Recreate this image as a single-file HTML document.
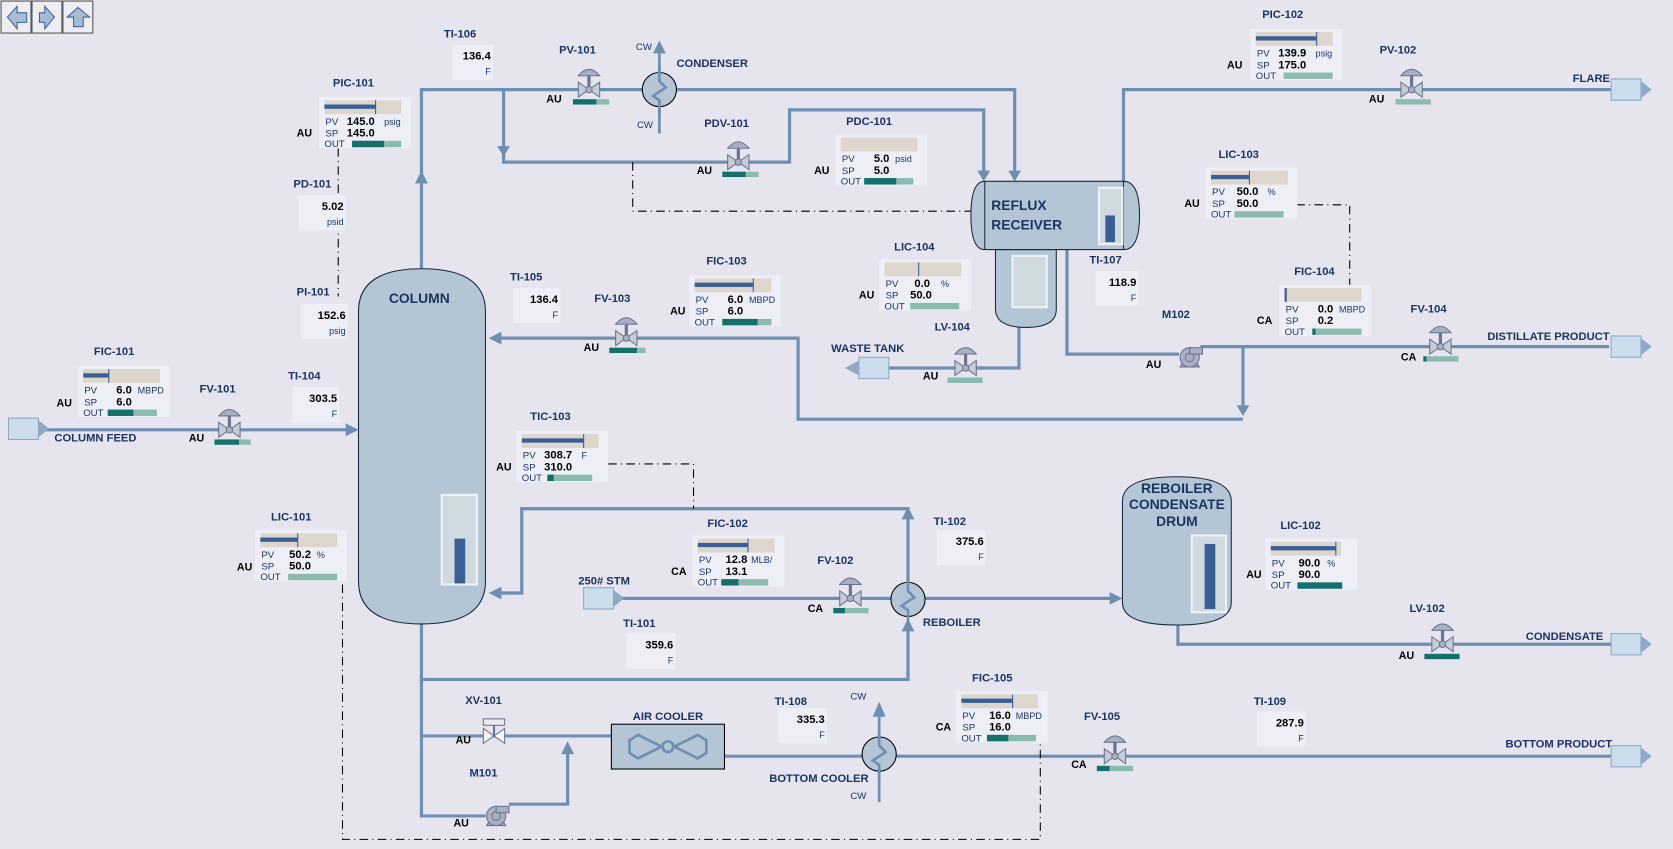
<!DOCTYPE html>
<html><head><meta charset="utf-8"><style>
html,body{margin:0;padding:0;background:#e6e4ee;}
svg{display:block}
text{font-family:"Liberation Sans",sans-serif;}
.t{font-size:10.5px;font-weight:bold;fill:#1c3461}
.a{font-size:10px;font-weight:bold;fill:#000}
.s{font-size:9px;fill:#1c3461}
.v{font-size:10.5px;font-weight:bold;fill:#000}
.u{font-size:8.5px;fill:#1c3461}
.big{font-size:13px;font-weight:bold;fill:#1c3461}
.p{fill:none;stroke:#6e8fb0;stroke-width:3}
.d{fill:none;stroke:#000;stroke-width:1;stroke-dasharray:8,4,1,4}
.box{fill:#eeeef7}
</style></head><body>
<svg width="1673" height="849" viewBox="0 0 1568 796" preserveAspectRatio="none" xmlns="http://www.w3.org/2000/svg">
<defs>
<g id="valve">
<polygon points="-10,-7 0,0 -10,7" fill="#c8ccd8" stroke="#6b7590"/>
<polygon points="10,-7 0,0 10,7" fill="#c8ccd8" stroke="#6b7590"/>
<circle r="3" fill="#aab0c4" stroke="#6b7590"/>
<line x1="0" y1="-3" x2="0" y2="-13" stroke="#6b7590" stroke-width="3"/>
<path d="M-10,-13 Q0,-25 10,-13 Z" fill="#aab0c4" stroke="#6b7590"/>
</g>
<g id="pump">
<polygon points="-9,9 9,9 6,4 -6,4" fill="#9aa2b8" stroke="#6b7590"/>
<circle r="9" fill="#aab0c4" stroke="#6b7590"/>
<circle r="4" fill="none" stroke="#6b7590"/>
<rect x="0" y="-9" width="12" height="6" fill="#aab0c4" stroke="#6b7590"/>
</g>
<g id="hx">
<circle r="16" fill="#b4c6d6" stroke="#000"/>
<polyline points="0,-22 0,-8 6,-2 -6,6 0,10 0,24" fill="none" stroke="#6e8fb0" stroke-width="2.5"/>
</g>
<g id="term">
<rect x="0" y="0" width="28" height="20" fill="#cbdcec" stroke="#8fa8c4"/>
<polygon points="28,2 38,10 28,18" fill="#8fa8c4"/>
</g>
<g id="arrD"><polygon points="-6,-10 6,-10 0,0" fill="#6e8fb0"/></g>
</defs>
<rect width="1568" height="796" fill="#e6e4ee"/>

<!-- nav buttons -->
<g>
<rect x="1" y="1" width="28" height="30" fill="#ededf2" stroke="#555"/>
<polygon points="7,16 16,6 16,12 25,12 25,21 16,21 16,27" fill="#a8bcd4" stroke="#3a62a0"/>
<rect x="30" y="1" width="28" height="30" fill="#ededf2" stroke="#555"/>
<polygon points="51,16 42,6 42,12 37,12 37,21 42,21 42,27" fill="#a8bcd4" stroke="#3a62a0"/>
<rect x="59" y="1" width="28" height="30" fill="#ededf2" stroke="#555"/>
<polygon points="73,7 63,16 69,16 69,25 78,25 78,16 84,16" fill="#a8bcd4" stroke="#3a62a0"/>
</g>

<!-- pipes -->
<polyline class="p" points="395,252 395,84 951,84 951,166"/>
<polyline class="p" points="472,84 472,152 740,152 740,103 922,103 922,166"/>
<use href="#arrD" x="472" y="147"/>
<use href="#arrD" x="951" y="170"/>
<use href="#arrD" x="922" y="170"/>
<polygon points="389,172 401,172 395,160" fill="#6e8fb0"/>
<line class="p" x1="618" y1="50" x2="618" y2="125" style="stroke-width:2.5"/>
<polygon points="612,50 624,50 618,38" fill="#6e8fb0"/>
<use href="#hx" x="618" y="84"/>
<polyline class="p" points="1053,170 1053,84 1510,84"/>
<polyline class="p" points="955,305 955,345 805,345"/>
<polygon points="805,338 805,352 792,345" fill="#8fa8c4"/>
<rect x="805" y="335" width="28" height="20" fill="#cbdcec" stroke="#8fa8c4"/>
<polyline class="p" points="1000,234 1000,332 1105,332"/>
<polyline class="p" points="1125,325 1508,325"/>
<polyline class="p" points="1165,325 1165,380"/>
<use href="#arrD" x="1165" y="390"/>
<polyline class="p" points="1165,393 748,393 748,317 470,317"/>
<polygon points="470,311 470,323 458,317" fill="#6e8fb0"/>
<line class="p" x1="33" y1="403" x2="325" y2="403"/>
<polygon points="324,397 324,409 336,403" fill="#6e8fb0"/>
<polyline class="p" points="395,585 395,637 851,637 851,590"/>
<polygon points="845,592 857,592 851,580" fill="#6e8fb0"/>
<polyline class="p" points="851,546 851,477 489,477 489,556 470,556"/>
<polygon points="845,487 857,487 851,475" fill="#6e8fb0"/>
<polygon points="470,550 470,562 458,556" fill="#6e8fb0"/>
<line class="p" x1="572" y1="561" x2="835" y2="561"/>
<line class="p" x1="867" y1="561" x2="1042" y2="561"/>
<polygon points="1040,555 1040,567 1052,561" fill="#6e8fb0"/>
<use href="#hx" x="851" y="562"/>
<polyline class="p" points="1104,585 1104,604 1510,604"/>
<polyline class="p" points="395,637 395,765 455,765"/>
<polyline class="p" points="395,690 573,690"/>
<polyline class="p" points="477,754 532,754 532,702"/>
<polygon points="526,707 538,707 532,695" fill="#6e8fb0"/>
<polyline class="p" points="679,709 808,709"/>
<polyline class="p" points="840,709 1510,709"/>
<line class="p" x1="824" y1="670" x2="824" y2="752" style="stroke-width:2.5"/>
<polygon points="818,672 830,672 824,658" fill="#6e8fb0"/>
<use href="#hx" x="824" y="707"/>

<!-- dashed signal lines -->
<polyline class="d" points="317,139 317,278"/>
<polyline class="d" points="593,152 593,198 910,198"/>
<polyline class="d" points="1215,192 1265,192 1265,268"/>
<polyline class="d" points="570,435 650,435 650,477"/>
<polyline class="d" points="321,548 321,787 975,787 975,697"/>

<!-- column -->
<path d="M336,292 Q336,252 395,252 Q455,252 455,292 L455,545 Q455,585 395,585 Q336,585 336,545 Z" fill="#b4c6d6" stroke="#1a2a40"/>
<text x="393" y="284" class="big" text-anchor="middle">COLUMN</text>
<rect x="414" y="464" width="33" height="84" fill="#cfd9e0" stroke="#eef2f6" stroke-width="2"/>
<rect x="426" y="505" width="10" height="42" fill="#3a5f95"/>

<!-- reflux receiver -->
<path d="M933,234 L990,234 L990,290 Q990,307 962,307 Q933,307 933,290 Z" fill="#b4c6d6" stroke="#1a2a40"/>
<rect x="949" y="240" width="32" height="48" fill="#cfd9e0" stroke="#eef2f6" stroke-width="2"/>
<path d="M923,170 L1053,170 Q1068,170 1068,202 Q1068,234 1053,234 L923,234 Q910,234 910,202 Q910,170 923,170 Z" fill="#b4c6d6" stroke="#1a2a40"/>
<line x1="923" y1="170" x2="923" y2="234" stroke="#1a2a40"/>
<line x1="1053" y1="170" x2="1053" y2="234" stroke="#1a2a40"/>
<text x="929" y="197" class="big">REFLUX</text>
<text x="929" y="215" class="big">RECEIVER</text>
<rect x="1030" y="176" width="22" height="53" fill="#cfd9e0" stroke="#eef2f6" stroke-width="2"/>
<rect x="1036" y="202" width="9" height="25" fill="#3a5f95"/>

<!-- reboiler condensate drum -->
<path d="M1052,470 Q1052,447 1103,447 Q1154,447 1154,470 L1154,565 Q1154,586 1103,586 Q1052,586 1052,565 Z" fill="#b4c6d6" stroke="#1a2a40"/>
<text x="1103" y="462" class="big" text-anchor="middle">REBOILER</text>
<text x="1103" y="477" class="big" text-anchor="middle">CONDENSATE</text>
<text x="1103" y="493" class="big" text-anchor="middle">DRUM</text>
<rect x="1117" y="502" width="32" height="72" fill="#cfd9e0" stroke="#eef2f6" stroke-width="2"/>
<rect x="1129" y="510" width="10" height="61" fill="#3a5f95"/>

<!-- air cooler -->
<rect x="573" y="679" width="106" height="42" fill="#b4c6d6" stroke="#000"/>
<g fill="none" stroke="#6e8fb0" stroke-width="2.5">
<path d="M620,700 L598,689 L590,694 L590,706 L598,711 Z"/>
<path d="M632,700 L654,689 L662,694 L662,706 L654,711 Z"/>
<circle cx="626" cy="700" r="5"/>
</g>
<text x="626" y="675" class="t" text-anchor="middle">AIR COOLER</text>

<!-- terminals -->
<use href="#term" x="8" y="392"/>
<use href="#term" x="547" y="551"/>
<use href="#term" x="1510" y="74"/>
<use href="#term" x="1510" y="315"/>
<use href="#term" x="1510" y="594"/>
<use href="#term" x="1510" y="699"/>

<!-- valves -->
<use href="#valve" x="552" y="84"/>
<use href="#valve" x="692" y="152"/>
<use href="#valve" x="1323" y="84"/>
<use href="#valve" x="905" y="345"/>
<use href="#valve" x="587" y="317"/>
<use href="#valve" x="1350" y="325"/>
<use href="#valve" x="215" y="403"/>
<use href="#valve" x="797" y="561"/>
<use href="#valve" x="1352" y="604"/>
<use href="#valve" x="1045" y="709"/>
<g transform="translate(463,690)">
<polygon points="-10,-7 0,0 -10,7" fill="#f4f4f8" stroke="#6b7590"/>
<polygon points="10,-7 0,0 10,7" fill="#f4f4f8" stroke="#6b7590"/>
<line x1="0" y1="0" x2="0" y2="-10" stroke="#6b7590" stroke-width="2"/>
<rect x="-10" y="-16" width="20" height="6" fill="#e8eaf0" stroke="#6b7590"/>
</g>
<!-- valve bars -->
<g>
<rect x="537" y="93" width="22" height="5" fill="#13706a"/><rect x="559" y="93" width="12" height="5" fill="#8bbbb0"/>
<rect x="677" y="161" width="22" height="5" fill="#13706a"/><rect x="699" y="161" width="12" height="5" fill="#8bbbb0"/>
<rect x="1308" y="93" width="33" height="5" fill="#8bbbb0"/>
<rect x="888" y="354" width="33" height="5" fill="#8bbbb0"/>
<rect x="571" y="326" width="26" height="5" fill="#13706a"/><rect x="597" y="326" width="8" height="5" fill="#8bbbb0"/>
<rect x="1334" y="334" width="3" height="5" fill="#13706a"/><rect x="1337" y="334" width="30" height="5" fill="#8bbbb0"/>
<rect x="201" y="412" width="23" height="5" fill="#13706a"/><rect x="224" y="412" width="11" height="5" fill="#8bbbb0"/>
<rect x="781" y="570" width="11" height="5" fill="#13706a"/><rect x="792" y="570" width="22" height="5" fill="#8bbbb0"/>
<rect x="1335" y="613" width="33" height="5" fill="#13706a"/>
<rect x="1028" y="718" width="12" height="5" fill="#13706a"/><rect x="1040" y="718" width="22" height="5" fill="#8bbbb0"/>
</g>
<use href="#pump" x="1115" y="335"/>
<use href="#pump" x="465" y="765"/>

<!-- equipment / tag labels -->
<text x="634" y="63" class="t">CONDENSER</text>
<text x="596" y="47" class="s">CW</text>
<text x="597" y="120" class="s">CW</text>
<text x="524" y="50" class="t">PV-101</text>
<text x="512" y="96" class="a">AU</text>
<text x="660" y="119" class="t">PDV-101</text>
<text x="653" y="163" class="a">AU</text>
<text x="1293" y="50" class="t">PV-102</text>
<text x="1283" y="96" class="a">AU</text>
<text x="1474" y="77" class="t">FLARE</text>
<text x="779" y="330" class="t">WASTE TANK</text>
<text x="877" y="229" class="t" display="none"></text>
<text x="876" y="310" class="t">LV-104</text>
<text x="865" y="356" class="a">AU</text>
<text x="1089" y="298" class="t">M102</text>
<text x="1074" y="345" class="a">AU</text>
<text x="1322" y="293" class="t">FV-104</text>
<text x="1313" y="338" class="a">CA</text>
<text x="1394" y="319" class="t">DISTILLATE PRODUCT</text>
<text x="557" y="283" class="t">FV-103</text>
<text x="547" y="329" class="a">AU</text>
<text x="187" y="368" class="t">FV-101</text>
<text x="177" y="414" class="a">AU</text>
<text x="51" y="414" class="t">COLUMN FEED</text>
<text x="542" y="548" class="t">250# STM</text>
<text x="766" y="529" class="t">FV-102</text>
<text x="757" y="574" class="a">CA</text>
<text x="865" y="587" class="t">REBOILER</text>
<text x="1321" y="574" class="t">LV-102</text>
<text x="1311" y="618" class="a">AU</text>
<text x="1430" y="600" class="t">CONDENSATE</text>
<text x="436" y="660" class="t">XV-101</text>
<text x="427" y="697" class="a">AU</text>
<text x="440" y="728" class="t">M101</text>
<text x="425" y="775" class="a">AU</text>
<text x="797" y="656" class="s">CW</text>
<text x="797" y="749" class="s">CW</text>
<text x="721" y="733" class="t">BOTTOM COOLER</text>
<text x="1016" y="675" class="t">FV-105</text>
<text x="1004" y="720" class="a">CA</text>
<text x="1411" y="701" class="t">BOTTOM PRODUCT</text>

<!-- indicators -->
<g transform="translate(424,42)"><text x="-8" y="-7" class="t">TI-106</text><rect class="box" width="38" height="33"/><text x="36" y="14" class="v" text-anchor="end">136.4</text><text x="36" y="28" class="u" text-anchor="end">F</text></g>
<g transform="translate(280,183)"><text x="-5" y="-7" class="t">PD-101</text><rect class="box" width="44" height="33"/><text x="42" y="14" class="v" text-anchor="end">5.02</text><text x="42" y="28" class="u" text-anchor="end">psid</text></g>
<g transform="translate(282,285)"><text x="-4" y="-8" class="t">PI-101</text><rect class="box" width="44" height="33"/><text x="42" y="14" class="v" text-anchor="end">152.6</text><text x="42" y="28" class="u" text-anchor="end">psig</text></g>
<g transform="translate(481,270)"><text x="-3" y="-7" class="t">TI-105</text><rect class="box" width="44" height="33"/><text x="42" y="14" class="v" text-anchor="end">136.4</text><text x="42" y="28" class="u" text-anchor="end">F</text></g>
<g transform="translate(274,363)"><text x="-4" y="-7" class="t">TI-104</text><rect class="box" width="44" height="33"/><text x="42" y="14" class="v" text-anchor="end">303.5</text><text x="42" y="28" class="u" text-anchor="end">F</text></g>
<g transform="translate(1027,254)"><text x="-6" y="-7" class="t">TI-107</text><rect class="box" width="40" height="33"/><text x="38" y="14" class="v" text-anchor="end">118.9</text><text x="38" y="28" class="u" text-anchor="end">F</text></g>
<g transform="translate(878,497)"><text x="-3" y="-5" class="t">TI-102</text><rect class="box" width="46" height="33"/><text x="44" y="14" class="v" text-anchor="end">375.6</text><text x="44" y="28" class="u" text-anchor="end">F</text></g>
<g transform="translate(587,594)"><text x="-3" y="-6" class="t">TI-101</text><rect class="box" width="46" height="33"/><text x="44" y="14" class="v" text-anchor="end">359.6</text><text x="44" y="28" class="u" text-anchor="end">F</text></g>
<g transform="translate(729,664)"><text x="-3" y="-3" class="t">TI-108</text><rect class="box" width="46" height="33"/><text x="44" y="14" class="v" text-anchor="end">335.3</text><text x="44" y="28" class="u" text-anchor="end">F</text></g>
<g transform="translate(1178,667)"><text x="-3" y="-6" class="t">TI-109</text><rect class="box" width="46" height="33"/><text x="44" y="14" class="v" text-anchor="end">287.9</text><text x="44" y="28" class="u" text-anchor="end">F</text></g>

<!-- faceplates -->
<g transform="translate(299,91)"><text x="13" y="-10" class="t">PIC-101</text><text x="-21" y="37" class="a">AU</text><rect class="box" width="86" height="48"/><rect x="5" y="3" width="72" height="13" fill="#ddd6cc"/><rect x="5" y="7" width="48" height="4" fill="#3a5f95"/><line x1="53" y1="3" x2="53" y2="16" stroke="#3a5f95"/><text x="6" y="26" class="s">PV</text><text x="26" y="26" class="v">145.0</text><text x="61" y="26" class="u">psig</text><text x="6" y="37" class="s">SP</text><text x="26" y="37" class="v">145.0</text><text x="5" y="47" class="s">OUT</text><rect x="31" y="41" width="46" height="6" fill="#8bbbb0"/><rect x="31" y="41" width="30" height="6" fill="#13706a"/></g>
<g transform="translate(1172,27)"><text x="11" y="-10" class="t">PIC-102</text><text x="-22" y="37" class="a">AU</text><rect class="box" width="86" height="48"/><rect x="5" y="3" width="72" height="13" fill="#ddd6cc"/><rect x="5" y="7" width="57" height="4" fill="#3a5f95"/><line x1="62" y1="3" x2="62" y2="16" stroke="#3a5f95"/><text x="6" y="26" class="s">PV</text><text x="26" y="26" class="v">139.9</text><text x="61" y="26" class="u">psig</text><text x="6" y="37" class="s">SP</text><text x="26" y="37" class="v">175.0</text><text x="5" y="47" class="s">OUT</text><rect x="31" y="41" width="46" height="6" fill="#8bbbb0"/></g>
<g transform="translate(783,126)"><text x="10" y="-9" class="t">PDC-101</text><text x="-20" y="37" class="a">AU</text><rect class="box" width="86" height="48"/><rect x="5" y="3" width="72" height="13" fill="#ddd6cc"/><text x="6" y="26" class="s">PV</text><text x="36" y="26" class="v">5.0</text><text x="56" y="26" class="u">psid</text><text x="6" y="37" class="s">SP</text><text x="36" y="37" class="v">5.0</text><text x="5" y="47" class="s">OUT</text><rect x="27" y="41" width="46" height="6" fill="#8bbbb0"/><rect x="27" y="41" width="30" height="6" fill="#13706a"/></g>
<g transform="translate(1130,157)"><text x="12" y="-9" class="t">LIC-103</text><text x="-20" y="37" class="a">AU</text><rect class="box" width="86" height="48"/><rect x="5" y="3" width="72" height="13" fill="#ddd6cc"/><rect x="5" y="7" width="36" height="4" fill="#3a5f95"/><line x1="41" y1="3" x2="41" y2="16" stroke="#3a5f95"/><text x="6" y="26" class="s">PV</text><text x="29" y="26" class="v">50.0</text><text x="58" y="26" class="u">%</text><text x="6" y="37" class="s">SP</text><text x="29" y="37" class="v">50.0</text><text x="5" y="47" class="s">OUT</text><rect x="27" y="41" width="46" height="6" fill="#8bbbb0"/></g>
<g transform="translate(824,243)"><text x="14" y="-8" class="t">LIC-104</text><text x="-19" y="37" class="a">AU</text><rect class="box" width="86" height="48"/><rect x="5" y="3" width="72" height="13" fill="#ddd6cc"/><line x1="37" y1="3" x2="37" y2="16" stroke="#3a5f95"/><text x="6" y="26" class="s">PV</text><text x="33" y="26" class="v">0.0</text><text x="58" y="26" class="u">%</text><text x="6" y="37" class="s">SP</text><text x="29" y="37" class="v">50.0</text><text x="5" y="47" class="s">OUT</text><rect x="29" y="41" width="46" height="6" fill="#8bbbb0"/></g>
<g transform="translate(646,258)"><text x="16" y="-10" class="t">FIC-103</text><text x="-18" y="37" class="a">AU</text><rect class="box" width="86" height="48"/><rect x="5" y="3" width="72" height="13" fill="#ddd6cc"/><rect x="5" y="7" width="55" height="4" fill="#3a5f95"/><line x1="60" y1="3" x2="60" y2="16" stroke="#3a5f95"/><text x="6" y="26" class="s">PV</text><text x="36" y="26" class="v">6.0</text><text x="56" y="26" class="u">MBPD</text><text x="6" y="37" class="s">SP</text><text x="36" y="37" class="v">6.0</text><text x="5" y="47" class="s">OUT</text><rect x="31" y="41" width="46" height="6" fill="#8bbbb0"/><rect x="31" y="41" width="33" height="6" fill="#13706a"/></g>
<g transform="translate(1199,267)"><text x="14" y="-9" class="t">FIC-104</text><text x="-21" y="37" class="a">CA</text><rect class="box" width="86" height="48"/><rect x="5" y="3" width="72" height="13" fill="#ddd6cc"/><line x1="6" y1="3" x2="6" y2="16" stroke="#3a5f95" stroke-width="2"/><text x="6" y="26" class="s">PV</text><text x="36" y="26" class="v">0.0</text><text x="56" y="26" class="u">MBPD</text><text x="6" y="37" class="s">SP</text><text x="36" y="37" class="v">0.2</text><text x="5" y="47" class="s">OUT</text><rect x="31" y="41" width="46" height="6" fill="#8bbbb0"/><rect x="31" y="41" width="3" height="6" fill="#13706a"/></g>
<g transform="translate(73,343)"><text x="15" y="-10" class="t">FIC-101</text><text x="-20" y="38" class="a">AU</text><rect class="box" width="86" height="48"/><rect x="5" y="3" width="72" height="13" fill="#ddd6cc"/><rect x="5" y="7" width="24" height="4" fill="#3a5f95"/><line x1="29" y1="3" x2="29" y2="16" stroke="#3a5f95"/><text x="6" y="26" class="s">PV</text><text x="36" y="26" class="v">6.0</text><text x="56" y="26" class="u">MBPD</text><text x="6" y="37" class="s">SP</text><text x="36" y="37" class="v">6.0</text><text x="5" y="47" class="s">OUT</text><rect x="28" y="41" width="46" height="6" fill="#8bbbb0"/><rect x="28" y="41" width="24" height="6" fill="#13706a"/></g>
<g transform="translate(484,404)"><text x="13" y="-10" class="t">TIC-103</text><text x="-19" y="37" class="a">AU</text><rect class="box" width="86" height="48"/><rect x="5" y="3" width="72" height="13" fill="#ddd6cc"/><rect x="5" y="7" width="58" height="4" fill="#3a5f95"/><line x1="63" y1="3" x2="63" y2="16" stroke="#3a5f95"/><text x="6" y="26" class="s">PV</text><text x="26" y="26" class="v">308.7</text><text x="61" y="26" class="u">F</text><text x="6" y="37" class="s">SP</text><text x="26" y="37" class="v">310.0</text><text x="5" y="47" class="s">OUT</text><rect x="29" y="41" width="42" height="6" fill="#8bbbb0"/><rect x="29" y="41" width="6" height="6" fill="#13706a"/></g>
<g transform="translate(239,497)"><text x="15" y="-9" class="t">LIC-101</text><text x="-17" y="38" class="a">AU</text><rect class="box" width="86" height="48"/><rect x="5" y="3" width="72" height="13" fill="#ddd6cc"/><rect x="5" y="7" width="35" height="4" fill="#3a5f95"/><line x1="40" y1="3" x2="40" y2="16" stroke="#3a5f95"/><text x="6" y="26" class="s">PV</text><text x="32" y="26" class="v">50.2</text><text x="58" y="26" class="u">%</text><text x="6" y="37" class="s">SP</text><text x="32" y="37" class="v">50.0</text><text x="5" y="47" class="s">OUT</text><rect x="31" y="41" width="46" height="6" fill="#8bbbb0"/></g>
<g transform="translate(649,502)"><text x="14" y="-8" class="t">FIC-102</text><text x="-20" y="37" class="a">CA</text><rect class="box" width="86" height="48"/><rect x="5" y="3" width="72" height="13" fill="#ddd6cc"/><rect x="5" y="7" width="47" height="4" fill="#3a5f95"/><line x1="52" y1="3" x2="52" y2="16" stroke="#3a5f95"/><text x="6" y="26" class="s">PV</text><text x="31" y="26" class="v">12.8</text><text x="55" y="26" class="u">MLB/</text><text x="6" y="37" class="s">SP</text><text x="31" y="37" class="v">13.1</text><text x="5" y="47" class="s">OUT</text><rect x="27" y="41" width="44" height="6" fill="#8bbbb0"/><rect x="27" y="41" width="16" height="6" fill="#13706a"/></g>
<g transform="translate(1186,505)"><text x="14" y="-9" class="t">LIC-102</text><text x="-18" y="37" class="a">AU</text><rect class="box" width="86" height="48"/><rect x="5" y="3" width="66" height="13" fill="#ddd6cc"/><rect x="5" y="7" width="61" height="4" fill="#3a5f95"/><line x1="66" y1="3" x2="66" y2="16" stroke="#3a5f95"/><text x="6" y="26" class="s">PV</text><text x="31" y="26" class="v">90.0</text><text x="58" y="26" class="u">%</text><text x="6" y="37" class="s">SP</text><text x="31" y="37" class="v">90.0</text><text x="5" y="47" class="s">OUT</text><rect x="30" y="41" width="42" height="6" fill="#13706a"/></g>
<g transform="translate(896,648)"><text x="15" y="-9" class="t">FIC-105</text><text x="-19" y="37" class="a">CA</text><rect class="box" width="86" height="48"/><rect x="5" y="3" width="72" height="13" fill="#ddd6cc"/><rect x="5" y="7" width="48" height="4" fill="#3a5f95"/><line x1="53" y1="3" x2="53" y2="16" stroke="#3a5f95"/><text x="6" y="26" class="s">PV</text><text x="31" y="26" class="v">16.0</text><text x="56" y="26" class="u">MBPD</text><text x="6" y="37" class="s">SP</text><text x="31" y="37" class="v">16.0</text><text x="5" y="47" class="s">OUT</text><rect x="29" y="41" width="46" height="6" fill="#8bbbb0"/><rect x="29" y="41" width="20" height="6" fill="#13706a"/></g>
</svg>
</body></html>
